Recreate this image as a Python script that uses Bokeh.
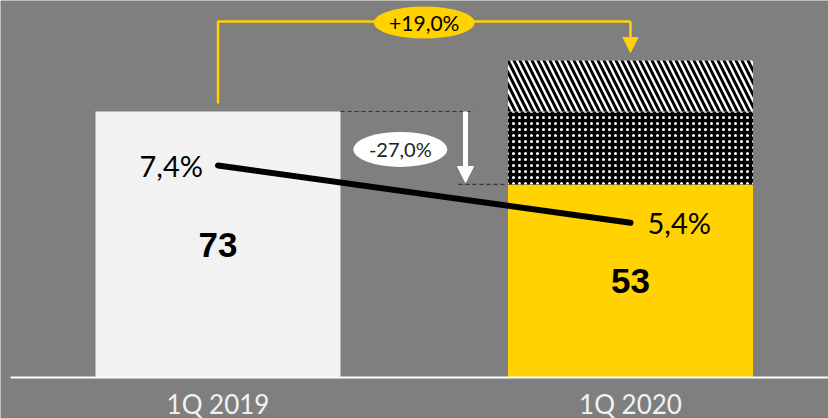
from bokeh.plotting import figure
from bokeh.models import Range1d, Arrow, NormalHead
from bokeh.core.properties import value
from bokeh.embed import file_html
from bokeh.resources import INLINE

# ---- data ----
categories = ["1Q 2019", "1Q 2020"]
cat_x = [0, 1]
bar_2019 = [73]
base_2020 = [53]          # solid yellow part
dotted_2020 = [20]        # dotted part stacked on top
hatched_2020 = [14]       # diagonal-hatched part on top
rate_values = [7.4, 5.4]
rate_labels = ["7,4%", "5,4%"]
value_labels = ["73", "53"]
bar_values = [73, 53]
growth_label = ["+19,0%"]
drop_label = ["-27,0%"]

# ---- layout / style ----
W, H = 828, 418
BG = "#7f7f7f"
YELLOW = "#ffd200"
LIGHT = "#f2f2f2"
BAR_W = 0.594
PX_X = 412.5          # px per category step
PX_Y = 3.6438         # px per unit
PX_R = 28.65          # px per percent
BASE_PX = 377         # baseline position from top of frame
LEFT_PX = 217.5       # px from frame left to first category centre
AXIS_INSET = 10       # baseline starts this many px from the left

x0 = -LEFT_PX / PX_X
x1 = x0 + W / PX_X
y_lo = -(H - BASE_PX) / PX_Y
y_hi = BASE_PX / PX_Y

p = figure(width=W, height=H, output_backend="svg", toolbar_location=None,
           x_range=Range1d(x0, x1), y_range=Range1d(y_lo, y_hi),
           min_border_left=0, min_border_right=0, min_border_top=0, min_border_bottom=0)
p.extra_y_ranges = {"rate": Range1d(-(H - BASE_PX) / PX_R, BASE_PX / PX_R)}
p.axis.visible = False
p.grid.visible = False
p.outline_line_color = None
p.background_fill_color = BG
p.border_fill_color = BG

total_2020 = base_2020[0] + dotted_2020[0] + hatched_2020[0]

# bars
p.vbar(x=[cat_x[0]], top=bar_2019, width=BAR_W, fill_color=LIGHT, line_color=None)
p.vbar(x=[cat_x[1]], bottom=0, top=base_2020, width=BAR_W, fill_color=YELLOW, line_color=None)
p.vbar(x=[cat_x[1]], bottom=base_2020, top=[base_2020[0] + dotted_2020[0]], width=BAR_W,
       fill_color="black", line_color=None, hatch_pattern="dot", hatch_color="white",
       hatch_scale=6, hatch_weight=1)
p.vbar(x=[cat_x[1]], bottom=[base_2020[0] + dotted_2020[0]], top=[total_2020], width=BAR_W,
       fill_color="white", line_color=None, hatch_pattern="left_diagonal_line",
       hatch_color="black", hatch_scale=12, hatch_weight=3)

# baseline (category axis line)
p.segment(x0=[x0 + AXIS_INSET / PX_X], y0=[0], x1=[x1], y1=[0],
          line_color="white", line_width=2)

# value labels inside bars
p.text(x=cat_x, y=[v / 2 for v in bar_values], text=value_labels,
       text_font=value("Liberation Sans"), text_font_style="bold", text_font_size="35px",
       text_color="black", text_align="center", text_baseline="middle")

# category labels
p.text(x=cat_x, y=[0, 0], text=categories, y_offset=26,
       text_font=value("Lato"), text_font_size="26px", text_color=LIGHT,
       text_align="center", text_baseline="middle")

# rate line
p.line(x=cat_x, y=rate_values, y_range_name="rate", line_color="black",
       line_width=6, line_cap="round")
p.text(x=[cat_x[0]], y=[rate_values[0]], text=[rate_labels[0]], y_range_name="rate",
       x_offset=-15, text_font=value("Lato"), text_font_size="29px", text_color="black",
       text_align="right", text_baseline="middle")
p.text(x=[cat_x[1]], y=[rate_values[1]], text=[rate_labels[1]], y_range_name="rate",
       x_offset=17, text_font=value("Lato"), text_font_size="29px", text_color="black",
       text_align="left", text_baseline="middle")

# growth connector (yellow)
gap = 8 / PX_Y
top_level = 97.7
p.line(x=[cat_x[0], cat_x[0], cat_x[1]], y=[bar_2019[0] + gap, top_level, top_level],
       line_color=YELLOW, line_width=2.5)
p.add_layout(Arrow(x_start=cat_x[1], y_start=top_level, x_end=cat_x[1], y_end=total_2020 + 2.2,
                   line_color=YELLOW, line_width=2.5,
                   end=NormalHead(size=15, fill_color=YELLOW, line_color=YELLOW)))
mid = (cat_x[0] + cat_x[1]) / 2
p.ellipse(x=[mid], y=[top_level - 0.3], width=101, height=32, width_units="screen",
          height_units="screen", fill_color=YELLOW, line_color=None)
p.text(x=[mid], y=[top_level - 0.3], text=growth_label, text_font=value("Lato"),
       text_font_size="21px", text_color="black", text_align="center", text_baseline="middle")

# drop indicator (white)
arrow_x = 0.6
p.segment(x0=[cat_x[0] + BAR_W / 2], y0=bar_2019, x1=[arrow_x + 0.02], y1=bar_2019,
          line_color="#333333", line_width=1.2, line_dash="4 3")
p.segment(x0=[arrow_x - 0.017], y0=base_2020, x1=[cat_x[1] - BAR_W / 2], y1=base_2020,
          line_color="#333333", line_width=1.2, line_dash="4 3")
p.add_layout(Arrow(x_start=arrow_x, y_start=bar_2019[0], x_end=arrow_x, y_end=base_2020[0] + 0.5,
                   line_color="white", line_width=5,
                   end=NormalHead(size=16, fill_color="white", line_color="white")))
p.ellipse(x=[0.442], y=[62.6], width=94, height=35, width_units="screen",
          height_units="screen", fill_color="white", line_color=None)
p.text(x=[0.442], y=[62.6], text=drop_label, text_font=value("Lato"),
       text_font_size="20px", text_color="#222222", text_align="center", text_baseline="middle")

open("out.html", "w").write(file_html(p, INLINE))
